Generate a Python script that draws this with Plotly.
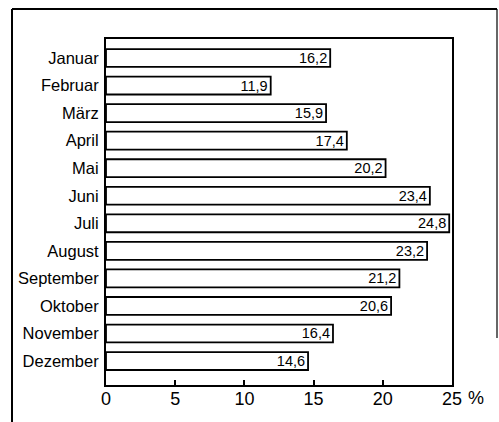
import plotly.graph_objects as go

# Monthly shares in percent
months = ["Januar", "Februar", "März", "April", "Mai", "Juni", "Juli",
          "August", "September", "Oktober", "November", "Dezember"]
values = [16.2, 11.9, 15.9, 17.4, 20.2, 23.4, 24.8, 23.2, 21.2, 20.6, 16.4, 14.6]
x_ticks = [0, 5, 10, 15, 20, 25]
x_tick_labels = ["0", "5", "10", "15", "20", "25"]

FONT = "Liberation Sans, Arial, Helvetica, sans-serif"

W, H = 499, 422
ML, MR, MT, MB = 106, 47, 39, 37
PW, PH = W - ML - MR, H - MT - MB


def px_x(px):
    return (px - ML) / PW


def px_y(py):
    return (H - MB - py) / PH


fig = go.Figure(go.Bar(
    x=values,
    y=months,
    orientation="h",
    width=0.65,
    marker=dict(color="white", line=dict(color="black", width=1.8)),
    texttemplate="%{x:.1f}",
    textposition="inside",
    insidetextanchor="end",
    constraintext="none",
    textfont=dict(family=FONT, size=14.5, color="black"),
    hoverinfo="skip",
))

fig.update_layout(
    width=W, height=H,
    margin=dict(l=ML, r=MR, t=MT, b=MB, pad=0),
    paper_bgcolor="white",
    plot_bgcolor="white",
    separators=",.",
    showlegend=False,
    font=dict(family=FONT, color="black"),
    xaxis=dict(
        range=[0, 25],
        tickvals=x_ticks,
        ticktext=x_tick_labels,
        ticks="inside", ticklen=5, tickwidth=1.5, tickcolor="black",
        tickfont=dict(size=18, family=FONT),
        ticklabelstandoff=-4,
        showgrid=False, zeroline=False,
        showline=True, linecolor="black", linewidth=2, mirror=True,
        automargin=False, fixedrange=True,
    ),
    yaxis=dict(
        type="category",
        categoryorder="array", categoryarray=months,
        range=[11.87, -0.69],
        ticks="", tickfont=dict(size=16.5, family=FONT),
        ticklabelstandoff=2,
        showgrid=False, zeroline=False,
        showline=True, linecolor="black", linewidth=2, mirror=True,
        automargin=False, fixedrange=True,
    ),
)

# Percent sign after the last tick label
fig.add_annotation(
    x=25, y=0, xref="x", yref="paper", text="%", showarrow=False,
    xanchor="left", yanchor="top", xshift=14, yshift=-1,
    font=dict(size=18, family=FONT, color="black"),
)

# Outer frame around the figure
frame = dict(color="black", width=2)
fig.add_shape(type="line", xref="paper", yref="paper",
              x0=px_x(12), x1=px_x(12), y0=px_y(9), y1=px_y(422), line=frame)
fig.add_shape(type="line", xref="paper", yref="paper",
              x0=px_x(12), x1=px_x(497), y0=px_y(9), y1=px_y(9), line=frame)
fig.add_shape(type="line", xref="paper", yref="paper",
              x0=px_x(497), x1=px_x(497), y0=px_y(9), y1=px_y(338),
              line=dict(color="black", width=1.2))

fig.write_html("out.html")
